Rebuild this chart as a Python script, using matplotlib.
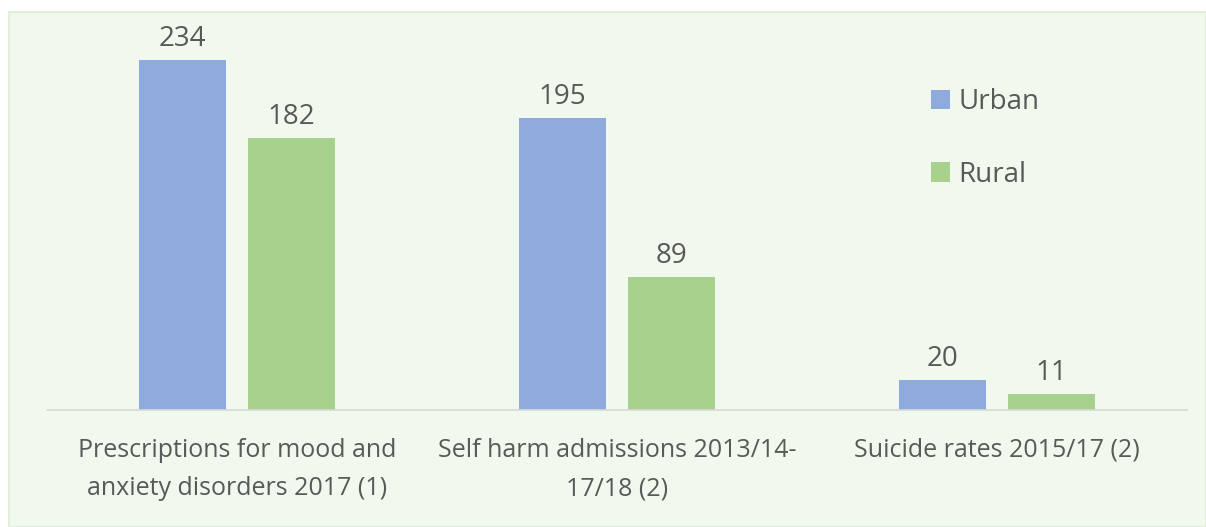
import matplotlib.pyplot as plt
import numpy as np
from matplotlib.patches import Rectangle

# datos
categories = ["Prescriptions for mood and\nanxiety disorders 2017 (1)",
              "Self harm admissions 2013/14-\n17/18 (2)",
              "Suicide rates 2015/17 (2)"]
urban = [234, 195, 20]
rural = [182, 89, 11]
series_names = ["Urban", "Rural"]

urban_color = "#8FAADC"
rural_color = "#A9D18E"
text_color = "#595959"
bg_color = "#F1F8EE"

plt.rcParams['font.family'] = ['Open Sans', 'DejaVu Sans']

fig = plt.figure(figsize=(12.06, 5.27), dpi=100)
fig.patch.set_facecolor("white")

# panel de fondo
panel = Rectangle((9 / 1206, 0), 1 - 9 / 1206, (527 - 12) / 527,
                  transform=fig.transFigure, facecolor=bg_color,
                  edgecolor="#E2EFD9", linewidth=1.5, zorder=-10)
fig.patches.append(panel)

ax = fig.add_axes([47 / 1206, (527 - 410) / 527, 1140 / 1206, 390 / 527])
ax.set_facecolor("none")
ax.set_zorder(5)

x = np.arange(len(categories))
w = 87 / 380
gap = 22 / 380
b1 = ax.bar(x - (w + gap) / 2, urban, w, color=urban_color, label=series_names[0])
b2 = ax.bar(x + (w + gap) / 2, rural, w, color=rural_color, label=series_names[1])

for bars in (b1, b2):
    for b in bars:
        ax.annotate(str(int(b.get_height())), (b.get_x() + b.get_width() / 2, b.get_height()),
                    xytext=(0, 5), textcoords="offset points", ha="center", va="bottom",
                    fontsize=20, color=text_color)

ax.set_xlim(-0.5, 2.5)
ax.set_ylim(0, 390 / (350 / 234))
ax.set_yticks([])
ax.set_xticks(x)
ax.set_xticklabels(categories, fontsize=18, color=text_color, linespacing=1.7)
ax.tick_params(axis="x", length=0, pad=20)
for s in ["top", "right", "left"]:
    ax.spines[s].set_visible(False)
ax.spines["bottom"].set_color("#D9D9D9")
ax.spines["bottom"].set_linewidth(1.2)

leg = ax.legend(loc="upper left", bbox_to_anchor=(0.775, 0.825), frameon=False,
                fontsize=20, labelspacing=1.6, handlelength=0.7, handleheight=0.7,
                handletextpad=0.3, borderpad=0, borderaxespad=0)
for t in leg.get_texts():
    t.set_color(text_color)

fig.savefig("out.png", dpi=100, facecolor=fig.get_facecolor())
